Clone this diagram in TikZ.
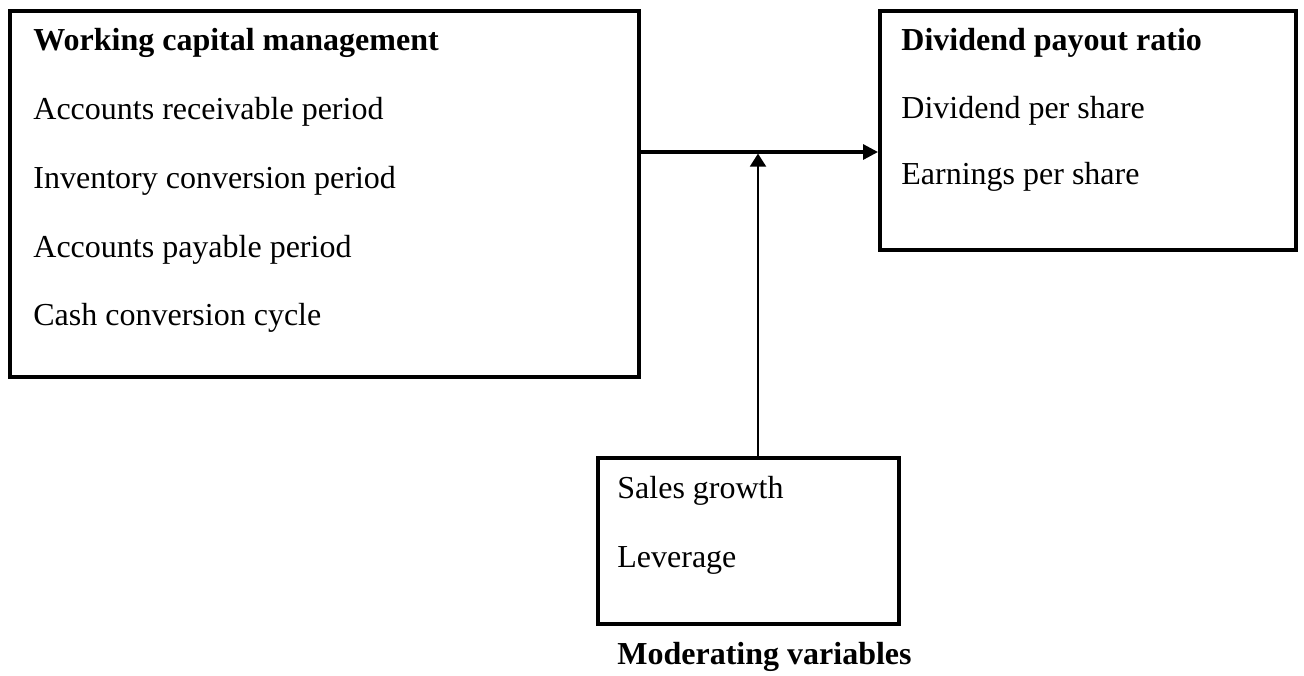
\documentclass[tikz,border=0pt]{standalone}
\usepackage{fontspec}
\setmainfont{Liberation Serif}
\usetikzlibrary{arrows.meta,positioning}

\begin{document}
\begin{tikzpicture}[x=0.5pt, y=-0.5pt,
	box/.style={draw, line width=1.9pt, anchor=north west, inner sep=0pt},
	item/.style={anchor=base west, inner sep=0pt, font=\fontsize{16}{19}\selectfont},
	head/.style={item, font=\fontsize{16}{19}\selectfont\bfseries},
	link/.style={line width=1.6pt, -{Triangle[length=7.5pt, width=7.5pt]}},
	linkthin/.style={line width=1pt, -{Triangle[length=6.5pt, width=8pt]}}]
	\useasboundingbox (0,0) rectangle (1304,675);

	% Working capital management
	\node[box, minimum width=314.5pt, minimum height=183pt] (wcm) at (8,9) {};
	\node[head] (wcm-h) at (33,50) {Working capital management};
	\foreach \txt/\y [count=\i] in {Accounts receivable period/119,
		Inventory conversion period/188,
		Accounts payable period/257,
		Cash conversion cycle/325} {
		\node[item] (wcm-\i) at (33,\y) {\txt};
	}

	% Dividend payout ratio
	\node[box, minimum width=208pt, minimum height=119.5pt] (dpr) at (878,9) {};
	\node[head] (dpr-h) at (901,50) {Dividend payout ratio};
	\foreach \txt/\y [count=\i] in {Dividend per share/118,
		Earnings per share/184} {
		\node[item] (dpr-\i) at (901,\y) {\txt};
	}

	% Moderating variables
	\node[box, minimum width=150.5pt, minimum height=83pt] (mod) at (596,456) {};
	\foreach \txt/\y [count=\i] in {Sales growth/498, Leverage/567} {
		\node[item] (mod-\i) at (617,\y) {\txt};
	}
	\node[head] (mod-h) at (617,664) {Moderating variables};

	% Connectors
	\coordinate (join) at (758,152);
	\draw[link] (wcm.east |- join) -- (dpr.west |- join);
	\draw[linkthin] (mod.north -| join) -- ([yshift=-0.8pt]join);
\end{tikzpicture}
\end{document}
